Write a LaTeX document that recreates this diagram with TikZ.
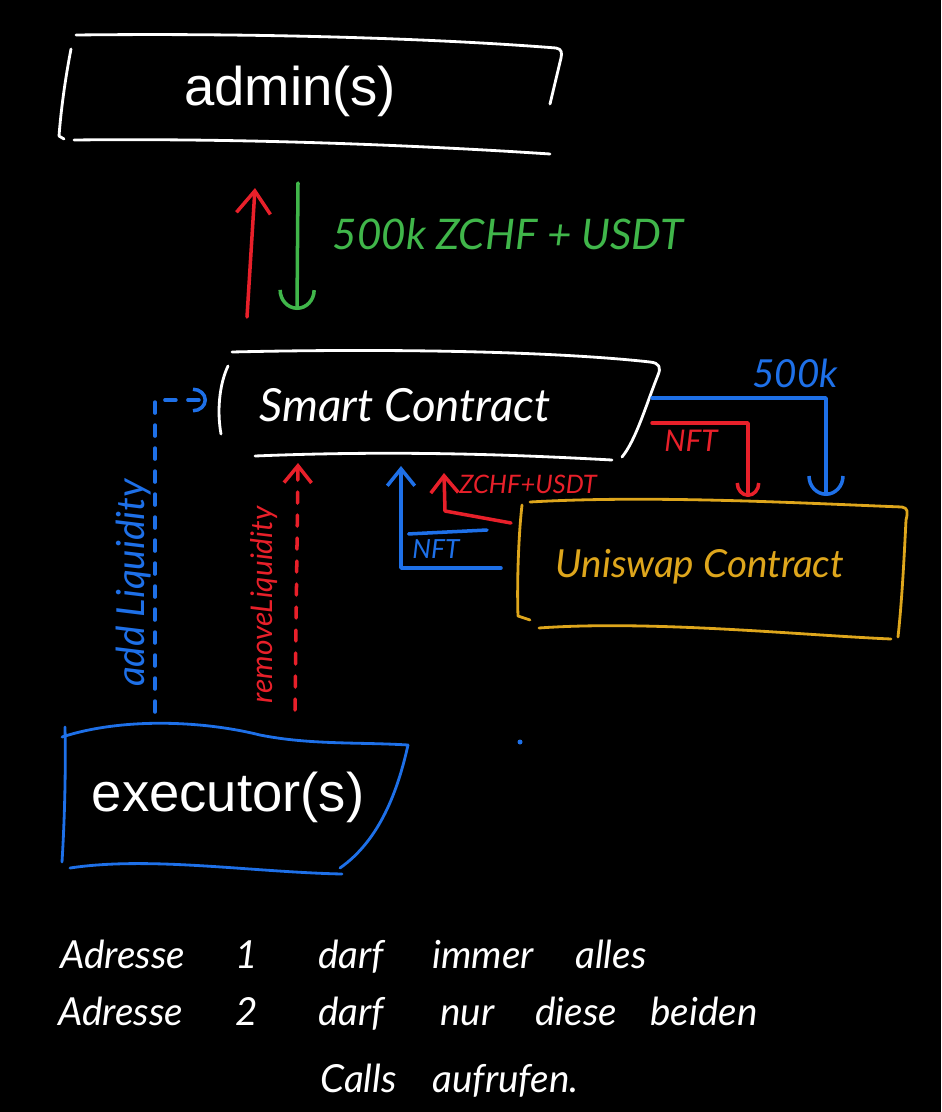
\documentclass[tikz,border=0pt]{standalone}
\usepackage{fontspec}
\setmainfont{Liberation Sans}
\newfontfamily\handfont{Lato}
\definecolor{handRed}{RGB}{232, 32, 42}
\definecolor{handGreen}{RGB}{64, 182, 74}
\definecolor{handBlue}{RGB}{30, 112, 232}
\definecolor{handYellow}{RGB}{222, 166, 28}
\usetikzlibrary{
    arrows.meta,
    scopes,
    positioning
}
\tikzset{
    frame/.style={line width=1.6pt, line cap=round, line join=round},
    flow/.style={line width=2pt, line cap=round, line join=round},
    barb/.style={-{Straight Barb[width=0.68cm, length=0.45cm]}},
    smallbarb/.style={-{Straight Barb[width=0.55cm, length=0.34cm]}},
    hook/.style={-{Arc Barb[width=0.75cm, length=0.4cm]}},
    smallhook/.style={-{Arc Barb[width=0.5cm, length=0.28cm]}},
    dashflow/.style={flow, dash pattern=on 0.22cm off 0.24cm},
}

\begin{document}
\begin{tikzpicture}[
        x=0.02cm, y=-0.02cm,
        boxtext/.style={text=white, font=\fontsize{31}{36}\selectfont, inner sep=0pt},
        handtext/.style={inner sep=0pt},
        hand/.style={font=\handfont\itshape\fontsize{#1}{#1}\selectfont},
        notetext/.style={text=white, inner sep=0pt, anchor=base west, hand=22},
    ]
    \fill[black] (0,0) rectangle (941,1112);
    \useasboundingbox (0,0) rectangle (941,1112);

    \begin{scope}
        % boxes
        \node[boxtext] (admin) at (290,91) {admin(s)};
        \node[boxtext] (executor) at (228,797) {executor(s)};
        \node[handtext, text=white, hand=26] (smart) at (405,405) {Smart Contract};
        \node[handtext, text=handYellow, hand=22] (uniswap) at (700,567) {Uniswap Contract};
    \end{scope}

    % hand drawn frames
    \draw[frame, white] (71,49) .. controls (65,80) and (61,110) .. (59,136) -- (64,139);
    \draw[frame, white] (76,35) .. controls (250,33) and (430,38) .. (556,48) .. controls (562,49) and (562,53) .. (561,58) -- (550,104);
    \draw[frame, white] (74,140) .. controls (250,138) and (430,146) .. (550,154);

    \draw[frame, white] (228,366) .. controls (219,385) and (217,412) .. (221,434);
    \draw[frame, white] (232,352) .. controls (400,348) and (560,352) .. (650,362) .. controls (660,363) and (661,368) .. (658,375) .. controls (646,405) and (636,440) .. (622,457);
    \draw[frame, white] (255,456) .. controls (400,450) and (520,455) .. (612,460);

    \draw[frame, handBlue] (62,737) .. controls (120,718) and (200,720) .. (260,735) .. controls (310,745) and (360,742) .. (408,745);
    \draw[frame, handBlue] (65,727) .. controls (66,780) and (64,830) .. (62,862);
    \draw[frame, handBlue] (408,745) .. controls (398,790) and (380,840) .. (340,868);
    \draw[frame, handBlue] (70,868) .. controls (150,856) and (250,872) .. (342,874);

    \draw[frame, handYellow] (530,502) .. controls (650,495) and (800,503) .. (902,507) .. controls (908,508) and (908,512) .. (906,520) .. controls (904,560) and (902,600) .. (898,637);
    \draw[frame, handYellow] (522,505) .. controls (518,540) and (517,590) .. (518,616) -- (530,620);
    \draw[frame, handYellow] (539,628) .. controls (650,620) and (800,635) .. (891,639);

    % connector ends
    \coordinate (admin_in) at (255,188);
    \coordinate (admin_out) at (298,183);
    \coordinate (smart_up) at (247,317);
    \coordinate (smart_down) at (297,310);
    \coordinate (exec_add) at (155,712);
    \coordinate (smart_add) at (207,400);
    \coordinate (exec_rm) at (295,710);
    \coordinate (smart_rm) at (298,463);
    \coordinate (uni_nft) at (501,568);
    \coordinate (smart_nft) at (401,466);
    \coordinate (uni_tok) at (511,523);
    \coordinate (tok_bend) at (445,511);
    \coordinate (smart_tok) at (444,473);
    \coordinate (smart_pay) at (652,398);
    \coordinate (uni_pay) at (826,496);
    \coordinate (smart_mint) at (652,423);
    \coordinate (uni_mint) at (748,497);

    \begin{scope}
        \draw[flow, handRed, barb] (smart_up) -- (admin_in);
        \draw[flow, handGreen, hook] (admin_out) -- (smart_down);
        \node[handtext, text=handGreen, hand=24] (lbl_deposit) at (508,234) {500k ZCHF + USDT};
    \end{scope}

    \begin{scope}
        \draw[dashflow, handBlue, smallhook] (exec_add) |- (smart_add);
        \node[handtext, text=handBlue, hand=22, rotate=90] (lbl_add) at (134,583) {add Liquidity};
        \draw[dashflow, handRed, smallbarb] (exec_rm) -- (smart_rm);
        \node[handtext, text=handRed, hand=17, rotate=90] (lbl_rm) at (264,605) {removeLiquidity};
    \end{scope}

    \begin{scope}
        \draw[flow, handBlue, hook] (smart_pay) -| (uni_pay);
        \node[handtext, text=handBlue, hand=22] (lbl_pay) at (795,373) {500k};
        \draw[flow, handRed, smallhook] (smart_mint) -| (uni_mint);
        \node[handtext, text=handRed, hand=17] (lbl_mint) at (691,441) {NFT};
        \draw[flow, handRed, smallbarb] (uni_tok) -- (tok_bend) -- (smart_tok);
        \node[handtext, text=handRed, hand=14.5] (lbl_tok) at (528,484) {ZCHF+USDT};
        \draw[flow, handBlue, smallbarb] (uni_nft) -| (smart_nft);
        \node[handtext, text=handBlue, hand=15] (lbl_nft) at (436,549) {NFT};
        \draw[flow, handBlue] ([xshift=-2pt, yshift=3pt]lbl_nft.north west) -- (487,530);
    \end{scope}

    \fill[handBlue] (520,742) circle (2.5);

    % notes
    \foreach \w/\x in {Adresse/60, 1/235, darf/318, immer/432, alles/575}
        \node[notetext] (note1-\x) at (\x,968) {\w};
    \foreach \w/\x in {Adresse/58, 2/235, darf/318, nur/440, diese/535, beiden/650}
        \node[notetext] (note2-\x) at (\x,1025) {\w};
    \foreach \w/\x in {Calls/320, aufrufen./432}
        \node[notetext] (note3-\x) at (\x,1092) {\w};
\end{tikzpicture}
\end{document}
